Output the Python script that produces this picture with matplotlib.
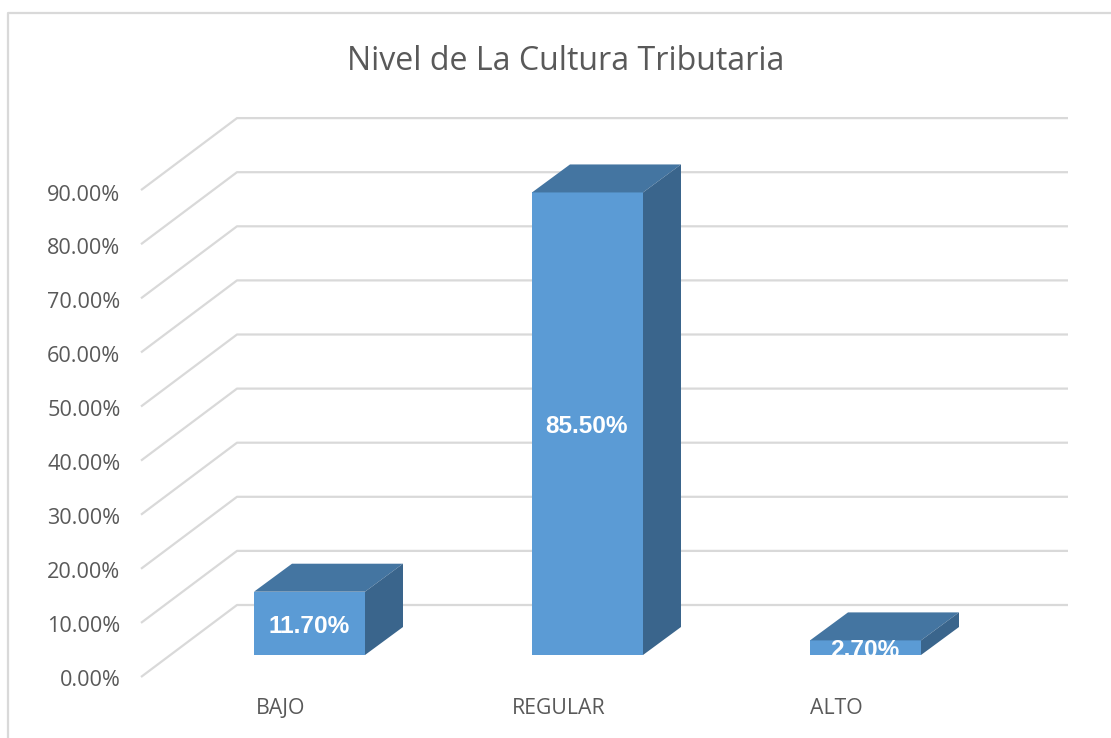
import numpy as np
import matplotlib
matplotlib.use('Agg')
import matplotlib.pyplot as plt
from matplotlib.patches import Polygon

categories = ['BAJO', 'REGULAR', 'ALTO']
values = [11.7, 85.5, 2.7]
value_labels = ['11.70%', '85.50%', '2.70%']
grid_values = [0, 10, 20, 30, 40, 50, 60, 70, 80, 90]
tick_labels = ['0.00%', '10.00%', '20.00%', '30.00%', '40.00%', '50.00%', '60.00%', '70.00%', '80.00%', '90.00%']

W, H = 1111, 738
PX_Y = 5.41    # pixels per percent point
PX_X = 278.0    # pixels per category
X0, Y0 = 309.5, 655.0    # pixel position of first category / zero on the bar front

GRAY = '#d9d9d9'
TEXT = '#595959'
FRONT = '#5b9bd5'
TOP = '#4475a1'
SIDE = '#3a658c'

fig = plt.figure(figsize=(W/100, H/100), dpi=100)
ax = fig.add_axes([0, 0, 1, 1])
ax.set_xlim(-X0/PX_X, (W-X0)/PX_X)
ax.set_ylim(-(H-Y0)/PX_Y, Y0/PX_Y)
ax.axis('off')


def dx(px):
    return px/PX_X


def dy(px):
    return px/PX_Y


# chart frame, only left and top show up in the picture
ax.plot([dx(8.5-X0)]*2 + [dx(W-X0)], [-(H-Y0)/PX_Y, dy(Y0-13), dy(Y0-13)], color=GRAY, lw=1.6, zorder=1)

# wall and floor lines
xs = [dx(141-X0), dx(237-X0), dx(1068-X0)]
for v, lab in zip(grid_values, tick_labels):
    ys = [v + dy(Y0-677), v + dy(Y0-605), v + dy(Y0-605)]
    ax.plot(xs, ys, color=GRAY, lw=1.6, zorder=1, solid_capstyle='butt')
    # labels sit a little lower than the lines and drift down towards the top
    ax.text(dx(120.5-X0), v*0.996 + dy(Y0-680), lab, ha='right', va='center', color=TEXT,
            fontsize=15.6, family='Open Sans')

# bars with a fake 3d top and side
bar_w = 111/PX_X
off_x, off_y = dx(38), dy(28)
for i, (cat, val, lab) in enumerate(zip(categories, values, value_labels)):
    l, r = i - bar_w/2, i + bar_w/2
    rect = ax.bar(i, val, width=bar_w, color=FRONT, zorder=3)[0]
    ax.add_patch(Polygon([(l, val), (r, val), (r+off_x, val+off_y), (l+off_x, val+off_y)],
                         closed=True, fc=TOP, ec='none', zorder=3))
    ax.add_patch(Polygon([(r, 0), (r, val), (r+off_x, val+off_y), (r+off_x, off_y)],
                         closed=True, fc=SIDE, ec='none', zorder=3))
    t = ax.text(i - dx(0.5), val/2 - dy(3), lab, ha='center', va='center', color='white', fontsize=17.6,
                fontweight='bold', family='Liberation Sans', zorder=4)
    t.set_clip_path(rect)
    # category labels are shifted left of the bar centre
    ax.text(i - dx(29), dy(Y0-709), cat, ha='center', va='center', color=TEXT, fontsize=15.3,
            family='Open Sans')

ax.text(dx(565.5-X0), dy(Y0-62), 'Nivel de La Cultura Tributaria', ha='center', va='center',
        color=TEXT, fontsize=23.1, family='Open Sans')

fig.savefig('out.png', dpi=100)
